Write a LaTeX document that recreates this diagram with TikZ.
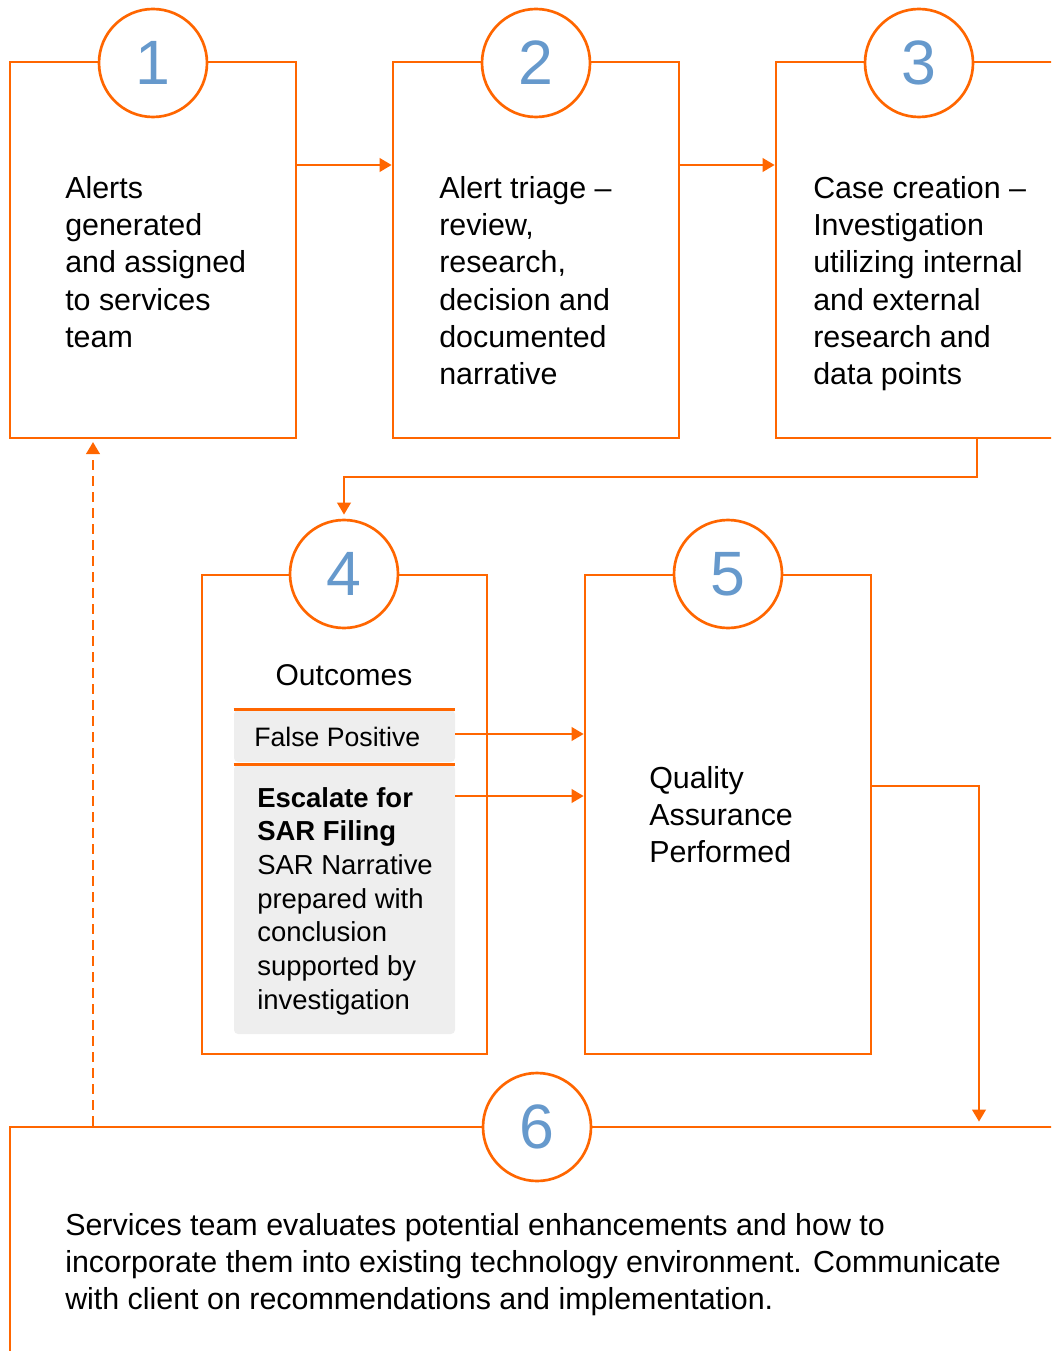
\documentclass[tikz,border=0pt]{standalone}
\usepackage{fontspec}
\setmainfont{Liberation Sans}
\usetikzlibrary{arrows.meta,fit,calc}
\definecolor{kor}{RGB}{255,102,0}
\definecolor{kblue}{RGB}{102,153,204}
\definecolor{kgray}{RGB}{238,238,238}
\begin{document}
\begin{tikzpicture}[x=0.75pt,y=-0.75pt,
  box/.style={draw=kor,line width=2pt,inner sep=0pt},
  panel/.style={fill=kgray,inner sep=0pt,rounded corners=3pt},
  num/.style={circle,draw=kor,line width=2pt,fill=white,minimum size=81pt,inner sep=0pt,
    font=\fontsize{47}{47}\selectfont,text=kblue},
  arr/.style={draw=kor,line width=2pt,-{Triangle[length=9pt,width=10pt]}},
  txt/.style={anchor=north west,inner sep=0pt,align=left,font=\fontsize{22.8}{28}\selectfont},
  small/.style={anchor=north west,inner sep=0pt,align=left,font=\fontsize{20.6}{25.25}\selectfont}]
\path[use as bounding box] (0,0) rectangle (1051,1351);
\clip (0,0) rectangle (1051,1351);

% boxes
\node[box,fit={(10,62)(296,438)}] (b1) {};
\node[box,fit={(393,62)(679,438)}] (b2) {};
\node[box,fit={(776,62)(1100,438)}] (b3) {};
\node[box,fit={(202,575)(487,1054)}] (b4) {};
\node[box,fit={(585,575)(871,1054)}] (b5) {};
\node[box,fit={(10,1127)(1100,1420)}] (b6) {};

% panels in box 4
\node[panel,fit={(234,710)(455,762)}] (fpp) {};
\node[panel,fit={(234,765)(455,1034)}] (escp) {};
\draw[kor,line width=2pt] (fpp.north west) -- (fpp.north east);
\draw[kor,line width=2pt] (escp.north west) -- (escp.north east);

% number circles
\node[num] (c1) at (153,63) {1};
\node[num] (c2) at (536,63) {2};
\node[num] (c3) at (919,63) {3};
\node[num] (c4) at (344,574) {4};
\node[num] (c5) at (728,574) {5};
\node[num] (c6) at (537,1127) {6};

% texts
\node[txt] (t1) at (65,176) {Alerts\\generated\\and assigned\\to services\\team};
\node[txt] (t2) at (439,176) {Alert triage –\\review,\\research,\\decision and\\documented\\narrative};
\node[txt] (t3) at (813,176) {Case creation –\\Investigation\\utilizing internal\\and external\\research and\\data points};
\node[inner sep=0pt,font=\fontsize{22.5}{28}\selectfont] (out) at (344,675) {Outcomes};
\node[anchor=west,inner sep=0pt,font=\fontsize{20}{25}\selectfont] (fpt) at (254,737) {False Positive};
\node[small] (esct) at (257,787) {\textbf{Escalate for}\\\textbf{SAR Filing}\\SAR Narrative\\prepared with\\conclusion\\supported by\\investigation};
\node[txt] (t5) at (649,766) {Quality\\Assurance\\Performed};
\node[txt] (t6) at (65,1213) {Services team evaluates potential enhancements and how to\\incorporate them into existing technology environment. Communicate\\with client on recommendations and implementation.};

% connectors
\coordinate (r1) at (0,165);
\draw[arr] (b1.east |- r1) -- (b2.west |- r1);
\draw[arr] (b2.east |- r1) -- (b3.west |- r1);
\coordinate (k3) at (977,477);
\draw[arr,shorten >=3pt] (b3.south -| k3) |- (c4.north |- k3) -- (c4.north);
\coordinate (r4) at (0,734);
\draw[arr] (fpp.east |- r4) -- (b5.west |- r4);
\coordinate (r5) at (0,796);
\draw[arr] (escp.east |- r5) -- (b5.west |- r5);
\coordinate (k5) at (979,786);
\draw[arr,shorten >=3pt] (b5.east |- k5) -| (b6.north -| k5);
\coordinate (k6) at (93,0);
\draw[arr,dash pattern=on 7pt off 5pt,shorten >=2pt] (b6.north -| k6) -- (b1.south -| k6);
\end{tikzpicture}
\end{document}
